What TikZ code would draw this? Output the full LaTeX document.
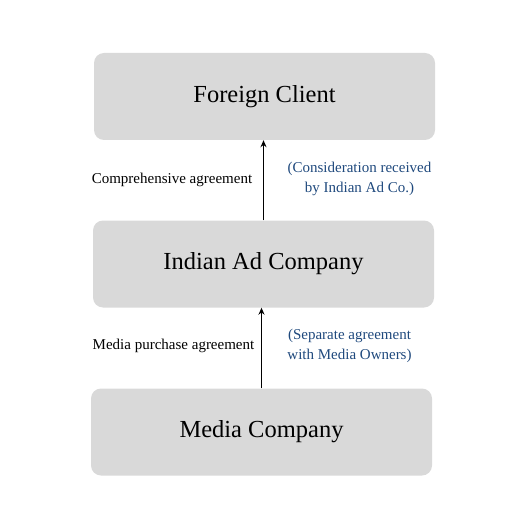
\documentclass[tikz,border=0pt]{standalone}
\usepackage{fontspec}
\setmainfont{Liberation Serif}
\usetikzlibrary{arrows.meta}
\definecolor{boxgray}{HTML}{D9D9D9}
\definecolor{noteblue}{HTML}{1F497D}
\begin{document}
\begin{tikzpicture}[x=1pt,y=-1pt,
  entity/.style={fill=boxgray,rounded corners=10pt,minimum width=341pt,minimum height=87pt,inner sep=0pt,font=\fontsize{24.5}{28}\selectfont},
  lbl/.style={font=\fontsize{15}{19}\selectfont,inner sep=0pt},
  note/.style={font=\fontsize{15}{19.5}\selectfont,text=noteblue,align=center,inner sep=0pt},
  flow/.style={-{Stealth[length=7pt,width=6pt]},line width=1.5pt}]
\useasboundingbox (0,0) rectangle (529,529);
\node[entity] (fc) at (264.5,96.5) {Foreign Client};
\node[entity] (iac) at (263.5,264) {Indian Ad Company};
\node[entity] (mc) at (261.5,432) {Media Company};
\draw[flow] (iac.north -| 263.5,0) -- (fc.south -| 263.5,0);
\draw[flow] (mc.north -| 261.5,0) -- (iac.south -| 261.5,0);
\node[lbl] (l1) at (172,180) {Comprehensive agreement};
\node[lbl] (l2) at (173.5,346) {Media purchase agreement};
\node[note] (n1) at (359.5,179) {(Consideration received\\by Indian Ad Co.)};
\node[note] (n2) at (349.5,346) {(Separate agreement\\with Media Owners)};
\end{tikzpicture}
\end{document}
